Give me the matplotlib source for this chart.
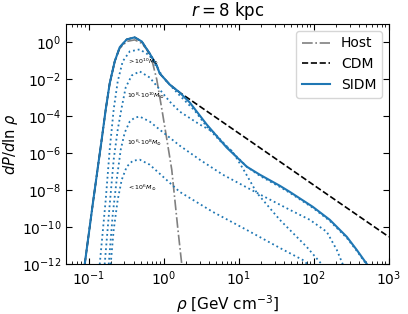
import numpy as np
import matplotlib
matplotlib.use("Agg")
import matplotlib.pyplot as plt
from matplotlib.ticker import LogLocator, NullLocator, NullFormatter

# ---- data (log10 values) ----
sidm_log_rho = [-1.053, -0.947, -0.827, -0.773, -0.720, -0.653, -0.587, -0.493, -0.387, -0.293,
                -0.187, -0.093, -0.053, 0.080, 0.213, 0.347, 0.573, 0.840, 1.107, 1.280,
                1.547, 1.680, 1.987, 2.213, 2.440, 2.573, 2.707]
sidm_log_P = [-12.0, -8.78, -5.26, -3.63, -2.22, -1.03, -0.27, 0.16, 0.27, 0.05,
              -0.60, -1.25, -1.68, -2.28, -2.71, -3.25, -4.44, -5.69, -6.72, -7.15,
              -7.75, -8.08, -8.89, -9.59, -10.51, -11.22, -11.98]

host_log_rho = [-1.053, -0.947, -0.827, -0.773, -0.720, -0.653, -0.587, -0.493, -0.387, -0.293,
                -0.227, -0.160, -0.093, -0.013, 0.053, 0.107, 0.187, 0.240]
host_log_P = [-12.0, -8.78, -5.26, -3.63, -2.22, -1.03, -0.33, 0.05, 0.135, -0.05,
              -0.38, -0.92, -2.00, -3.90, -5.53, -6.88, -10.03, -11.98]

cdm_log_rho = [-1.053, -0.947, -0.827, -0.773, -0.720, -0.653, -0.587, -0.493, -0.387, -0.293,
               -0.187, -0.093, -0.053, 0.080, 0.213, 1.147, 2.080, 3.0]
cdm_log_P = [-12.0, -8.78, -5.26, -3.63, -2.22, -1.03, -0.27, 0.16, 0.27, 0.05,
             -0.60, -1.25, -1.68, -2.28, -2.71, -5.32, -7.94, -10.51]

# subhalo mass bins
c1_log_rho = [-0.853, -0.773, -0.720, -0.667, -0.613, -0.547, -0.453, -0.320, -0.187, -0.093,
              0.013, 0.213, 0.413, 0.573, 0.747, 0.920, 1.080, 1.240, 1.547, 1.907, 2.107]
c1_log_P = [-12.0, -8.51, -5.80, -3.63, -2.11, -1.03, -0.49, -0.38, -0.71, -1.36,
            -2.00, -2.87, -3.69, -4.55, -5.31, -5.91, -6.99, -8.13, -9.59, -11.06, -12.0]

c2_log_rho = [-0.787, -0.720, -0.667, -0.613, -0.560, -0.507, -0.427, -0.320, -0.187, -0.053,
              0.080, 0.213, 0.480, 0.653, 0.947, 1.107, 1.280, 1.547, 1.680, 1.987,
              2.213, 2.440, 2.573, 2.707]
c2_log_P = [-12.0, -8.78, -6.34, -4.72, -3.52, -2.44, -1.79, -1.57, -1.90, -2.55,
            -3.20, -3.74, -4.44, -4.82, -6.07, -6.72, -7.21, -7.81, -8.13, -8.94,
            -9.65, -10.57, -11.27, -12.03]

c3_log_rho = [-0.733, -0.680, -0.627, -0.573, -0.520, -0.453, -0.387, -0.320, -0.187, -0.053,
              0.080, 0.213, 0.480, 0.787, 1.240, 1.680, 1.947, 2.173, 2.307, 2.387]
c3_log_P = [-12.0, -9.32, -7.43, -5.80, -4.88, -4.28, -4.07, -4.01, -4.28, -4.72,
            -5.15, -5.58, -6.34, -7.15, -8.13, -9.05, -9.59, -10.24, -11.22, -12.0]

c4_log_rho = [-0.707, -0.667, -0.613, -0.560, -0.493, -0.413, -0.320, -0.187, -0.053, 0.080,
              0.213, 0.653, 1.107, 1.547, 1.853, 1.920]
c4_log_P = [-12.0, -10.14, -8.51, -7.43, -6.72, -6.40, -6.34, -6.61, -7.10, -7.59,
            -8.08, -9.16, -10.14, -11.11, -11.76, -12.0]

bin_labels = [r'$>10^{10}M_{\odot}$', r'$10^{8}$-$10^{10}M_{\odot}$',
              r'$10^{6}$-$10^{8}M_{\odot}$', r'$<10^{6}M_{\odot}$']
label_log_rho = [-0.493, -0.493, -0.493, -0.493]
label_log_P = [-1.08, -2.87, -5.42, -7.86]

blue = '#1f77b4'

fig = plt.figure(figsize=(4.08, 3.14), dpi=100)
ax = fig.add_axes([0.162, 0.158, 0.791, 0.766])

def p(a):
    return 10.0 ** np.asarray(a)

ax.plot(p(host_log_rho), p(host_log_P), color='gray', ls='-.', lw=1.2, label='Host')
ax.plot(p(cdm_log_rho), p(cdm_log_P), color='k', ls='--', lw=1.2, label='CDM')
for lr, lp in [(c1_log_rho, c1_log_P), (c2_log_rho, c2_log_P),
               (c3_log_rho, c3_log_P), (c4_log_rho, c4_log_P)]:
    ax.plot(p(lr), p(lp), color=blue, ls=':', lw=1.3)
ax.plot(p(sidm_log_rho), p(sidm_log_P), color=blue, ls='-', lw=1.5, label='SIDM')

for txt, lr, lp in zip(bin_labels, label_log_rho, label_log_P):
    ax.text(10 ** lr, 10 ** lp, txt, fontsize=4.5, ha='left', va='center')

ax.set_xscale('log')
ax.set_yscale('log')
ax.set_xlim(0.05, 1000)
ax.set_ylim(1e-12, 10)
ax.set_yticks([1e-12, 1e-10, 1e-8, 1e-6, 1e-4, 1e-2, 1])
ax.yaxis.set_minor_locator(NullLocator())
ax.xaxis.set_major_locator(LogLocator(base=10, numticks=10))
ax.xaxis.set_minor_locator(LogLocator(base=10, subs=np.arange(2, 10), numticks=10))
ax.xaxis.set_minor_formatter(NullFormatter())
ax.tick_params(which='both', direction='in', top=True, right=True, labelsize=10)
ax.tick_params(which='major', length=4)
ax.tick_params(which='minor', length=2)

ax.set_xlabel(r'$\rho$ [GeV cm$^{-3}$]', fontsize=11)
ax.set_ylabel(r'$dP/d\ln\,\rho$', fontsize=10.5, labelpad=1)
ax.set_title(r'$r = 8$ kpc', fontsize=12)
ax.legend(loc='upper right', fontsize=10)

fig.savefig('out.png', dpi=100)
